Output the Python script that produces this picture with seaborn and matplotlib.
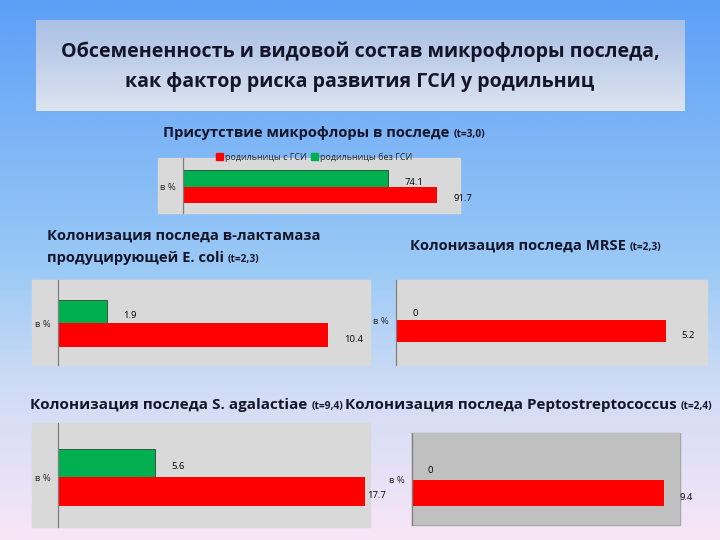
import numpy as np
import pandas as pd
import matplotlib.pyplot as plt
import seaborn as sns
from matplotlib.patches import Rectangle, Patch
from matplotlib.colors import LinearSegmentedColormap

# --- данные ---
groups = ["родильницы с ГСИ", "родильницы без ГСИ"]
presence = [91.7, 74.1]
ecoli = [10.4, 1.9]
mrse = [5.2, 0]
agalactiae = [17.7, 5.6]
pepto = [9.4, 0]
unit_label = "в %"

RED = "#ff0000"
GREEN = "#00b050"
GREY = "#d9d9d9"
TXT = "#15152a"

sns.set_theme(style="white")
plt.rcParams["font.family"] = ["Open Sans", "DejaVu Sans"]

W, H = 720, 540
fig = plt.figure(figsize=(7.2, 5.4), dpi=100)


def px(x0, y0, x1, y1):
    # пиксели картинки -> доли фигуры
    return [x0 / W, 1 - y1 / H, (x1 - x0) / W, (y1 - y0) / H]


def gradient_axes(rect, colors, z):
    a = fig.add_axes(rect, zorder=z)
    cmap = LinearSegmentedColormap.from_list("g", colors)
    a.imshow(np.linspace(0, 1, 256).reshape(-1, 1), aspect="auto", cmap=cmap,
             extent=[0, 1, 0, 1])
    a.set_axis_off()
    return a


# фон слайда и плашка заголовка
gradient_axes([0, 0, 1, 1], [(0, "#5d9ff6"), (0.5, "#9ccaf6"), (0.72, "#cfdcf5"),
                             (1, "#f8e6f7")], -10)
gradient_axes(px(36, 20, 685, 111), ["#a9bfe4", "#dde4f0"], -5)
fig.text(360 / W, 1 - 52 / H, "Обсемененность и видовой состав микрофлоры последа,",
         ha="center", va="center", fontsize=14.1, fontweight="bold", color=TXT)
fig.text(360 / W, 1 - 82 / H, "как фактор риска развития ГСИ у родильниц",
         ha="center", va="center", fontsize=14.1, fontweight="bold", color=TXT)


def title(x, y, main, small, size=10.65):
    t = fig.text(x / W, 1 - y / H, main, ha="left", va="baseline", fontsize=size,
                 fontweight="bold", color=TXT)
    if small:
        fig.add_artist(plt.Annotation(small, xy=(1, 0), xycoords=t, xytext=(3, 0),
                                      textcoords="offset points", ha="left",
                                      va="bottom", fontsize=7.3, fontweight="bold",
                                      color=TXT))
    return t


def chart(values, box, ax_rect, xmax, ylim, face=GREY, border=None):
    fig.patches.append(Rectangle((box[0], box[1]), box[2], box[3], transform=fig.transFigure,
                                 facecolor=face, edgecolor=border or face, lw=1, zorder=-1))
    ax = fig.add_axes(ax_rect)
    df = pd.DataFrame({"unit": unit_label, "group": groups, "value": values})
    sns.barplot(data=df, x="value", y="unit", hue="group", hue_order=groups[::-1],
                palette=[GREEN, RED], width=0.8, legend=False, ax=ax, saturation=1)
    for p in ax.patches:
        if p.get_facecolor()[1] > 0.5:
            p.set_edgecolor("#1d4d2a")
            p.set_linewidth(0.6)
        else:
            p.set_linewidth(0)
        v = p.get_width()
        dx = 16 if v / xmax < 0.95 else 2
        ax.annotate(f"{v:g}", (v, p.get_y() + p.get_height() / 2), xytext=(dx, -4),
                    textcoords="offset pixels", ha="left", va="center", fontsize=6.8,
                    color="black", annotation_clip=False)
    ax.set_xlim(0, xmax)
    ax.set_ylim(*ylim)
    ax.set_facecolor(face)
    ax.set_xticks([])
    ax.set_xlabel("")
    ax.set_ylabel("")
    ax.tick_params(axis="y", length=0, pad=5, labelsize=6.8)
    for s in ["top", "right", "bottom"]:
        ax.spines[s].set_visible(False)
    ax.spines["left"].set_color("#7f7f7f")
    ax.spines["left"].set_linewidth(0.9)
    return ax


# 1. Присутствие микрофлоры
title(163, 137, "Присутствие микрофлоры в последе", "(t=3,0)")
chart(presence, px(158, 158, 460, 213), px(183, 158, 460, 213), 100, (0.64, -0.69))
fig.legend(handles=[Patch(color=RED, label=groups[0]), Patch(color=GREEN, label=groups[1])],
           loc="center", bbox_to_anchor=(314 / W, 1 - 157 / H), ncol=2, frameon=False,
           fontsize=6.5, handlelength=0.8, handleheight=0.8, handletextpad=0.2,
           columnspacing=0.4, borderpad=0)

# 2. E. coli
title(47, 240, "Колонизация последа в-лактамаза", None)
title(47, 262, "продуцирующей E. coli", "(t=2,3)")
chart(ecoli, px(32, 280, 370, 365), px(58, 280, 370, 365), 12, (0.71, -0.74))

# 3. MRSE
title(410, 250, "Колонизация последа MRSE", "(t=2,3)")
chart(mrse, px(396, 280, 707, 365), px(396, 280, 707, 365), 6, (0.82, -0.73))

# 4. S. agalactiae
title(30, 409, "Колонизация последа S. agalactiae", "(t=9,4)", size=11)
chart(agalactiae, px(32, 423, 370, 527), px(58, 423, 370, 527), 18, (0.70, -0.76))

# 5. Peptostreptococcus
title(345, 409, "Колонизация последа Peptostreptococcus", "(t=2,4)", size=11)
chart(pepto, px(412, 433, 680, 525), px(412, 433, 680, 525), 10, (0.69, -0.72),
      face="#c0c0c0", border="#a6a6a6")

fig.savefig("out.png", dpi=100)
